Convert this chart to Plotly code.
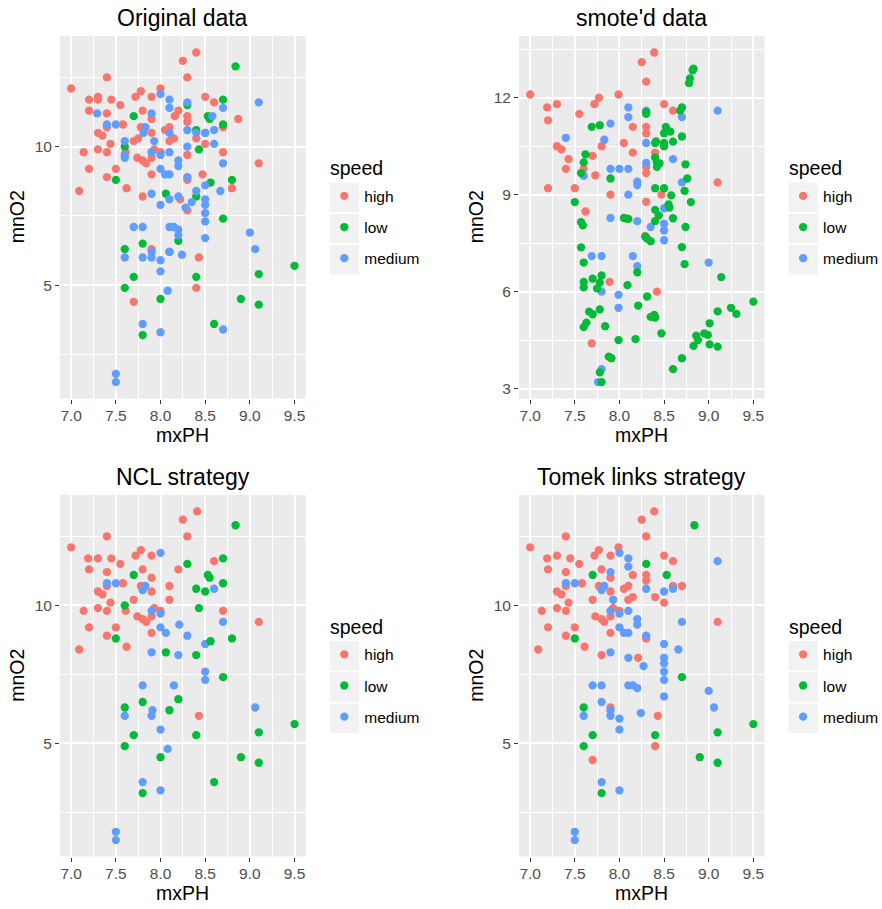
import plotly.graph_objects as go

W, H = 882, 909

CLASSES = ["high", "low", "medium"]
COLORS = {"high": "#F8766D", "low": "#00BA38", "medium": "#619CFF"}

# ---- data: (mxPH, mnO2) pairs per speed class ----
orig_high = [
    (8.4, 13.4), (8.25, 13.1), (7.4, 12.5), (8.3, 12.5), (7.0, 12.1), (8.0, 12.1), (7.78, 12.0),
    (7.72, 11.8), (7.9, 11.8), (7.2, 11.7), (7.3, 11.7), (7.3, 11.8), (7.45, 11.7), (7.55, 11.5),
    (8.5, 11.8), (8.6, 11.6), (7.2, 11.3), (7.4, 11.2), (7.8, 11.3), (7.9, 11.0), (8.2, 11.3),
    (8.16, 11.1), (8.3, 11.1), (8.3, 10.9), (8.87, 11.0), (8.7, 10.7), (7.4, 10.7), (7.58, 10.8),
    (7.78, 10.7), (7.9, 10.5), (8.1, 10.7), (8.05, 10.6), (8.15, 10.3), (8.1, 10.2), (7.3, 10.5),
    (7.35, 10.4), (7.44, 10.1), (7.7, 10.2), (7.75, 10.3), (8.4, 10.3), (8.5, 10.1), (7.3, 9.9),
    (7.14, 9.8), (7.4, 9.8), (7.61, 9.8), (7.93, 9.9), (8.0, 9.8), (8.3, 9.7), (8.7, 9.8),
    (9.1, 9.4), (7.74, 9.6), (7.8, 9.5), (7.84, 9.4), (7.9, 9.6), (7.2, 9.2), (7.5, 9.2),
    (7.9, 9.0), (8.3, 8.8), (8.47, 9.0), (7.4, 8.9), (7.62, 8.5), (8.8, 8.5), (7.09, 8.4),
    (7.8, 8.2), (8.22, 8.1), (8.3, 7.7), (7.9, 6.3), (8.43, 6.0), (8.4, 4.9), (7.7, 4.4),
]
orig_low = [
    (8.84, 12.9), (8.3, 11.5), (8.7, 11.7), (7.7, 11.1), (8.53, 11.1), (8.55, 11.0), (8.7, 10.8),
    (8.4, 10.6), (8.5, 10.5), (7.6, 10.0), (8.43, 9.9), (7.5, 8.8), (8.56, 8.7), (8.8, 8.8),
    (8.06, 8.3), (8.4, 8.2), (8.7, 7.4), (7.6, 6.3), (7.8, 6.5), (8.2, 6.6), (8.1, 6.2),
    (7.7, 5.3), (8.4, 5.3), (9.1, 5.4), (9.5, 5.7), (7.6, 4.9), (8.0, 4.5), (8.9, 4.5),
    (9.1, 4.3), (7.8, 3.2), (8.6, 3.6),
]
orig_medium = [
    (8.0, 11.9), (8.1, 11.7), (8.1, 11.4), (8.3, 11.6), (8.7, 11.4), (9.1, 11.6), (7.29, 11.2),
    (7.9, 11.2), (8.58, 11.1), (7.4, 10.8), (7.5, 10.8), (7.83, 10.7), (7.81, 10.5), (8.1, 10.5),
    (8.3, 10.6), (8.4, 10.5), (8.5, 10.5), (8.6, 10.6), (7.6, 10.2), (7.93, 10.2), (8.6, 10.1),
    (7.6, 9.7), (7.6, 9.6), (7.9, 9.8), (8.0, 9.7), (8.1, 9.8), (8.3, 10.0), (8.7, 9.4),
    (8.0, 9.2), (8.2, 9.5), (8.2, 9.3), (8.05, 9.0), (8.1, 9.0), (8.3, 8.9), (8.5, 8.6),
    (7.9, 8.3), (8.1, 8.1), (8.0, 7.9), (8.2, 8.2), (8.4, 8.4), (8.35, 8.0), (8.28, 7.8),
    (8.67, 8.4), (8.5, 8.1), (8.5, 7.9), (8.5, 7.6), (8.5, 7.3), (7.7, 7.1), (7.8, 7.1),
    (8.1, 7.1), (8.15, 7.1), (8.2, 7.0), (8.2, 6.8), (9.0, 6.9), (8.5, 6.7), (9.06, 6.3),
    (7.9, 6.2), (7.9, 6.0), (7.6, 6.0), (7.8, 6.0), (8.0, 5.9), (8.1, 6.2), (8.24, 6.1),
    (8.0, 5.5), (8.08, 4.8), (7.8, 3.6), (8.0, 3.3), (8.7, 3.4), (7.5, 1.8), (7.5, 1.5),
]

smote_high = [
    (8.39, 13.4), (8.25, 13.1), (8.3, 12.5), (7.0, 12.1), (7.77, 12.0), (7.99, 12.1), (7.72, 11.8),
    (7.19, 11.7), (7.3, 11.8), (7.55, 11.5), (7.2, 11.3), (8.5, 11.8), (8.6, 11.6), (8.15, 11.1),
    (8.3, 11.1), (8.3, 10.9), (8.05, 10.6), (7.3, 10.5), (7.35, 10.4), (7.8, 10.5), (7.43, 10.1),
    (7.7, 10.2), (8.15, 10.3), (8.4, 10.3), (8.3, 9.86), (8.3, 9.67), (7.4, 9.8), (7.6, 9.8),
    (7.73, 9.6), (7.2, 9.2), (7.5, 9.2), (9.1, 9.38), (7.9, 9.0), (8.47, 9.0), (8.3, 8.78),
    (7.62, 8.48), (8.29, 7.72), (7.89, 6.3), (8.42, 6.0), (7.69, 4.4),
]
smote_low = [
    (8.83, 12.9), (8.82, 12.85), (8.79, 12.6), (8.78, 12.45), (8.3, 11.5), (8.3, 11.55),
    (8.68, 11.6), (8.7, 11.7), (7.69, 11.1), (7.78, 11.15), (8.52, 11.1), (8.53, 11.0),
    (8.5, 10.9), (8.57, 10.95), (8.6, 10.64), (8.7, 10.8), (8.41, 10.65), (8.4, 10.6),
    (8.5, 10.6), (8.5, 10.5), (7.62, 10.25), (7.6, 10.0), (8.4, 10.15), (8.42, 10.0),
    (8.45, 9.97), (8.42, 9.86), (8.74, 9.94), (7.57, 9.67), (7.9, 9.5), (8.76, 9.5),
    (8.4, 9.2), (8.5, 9.2), (8.73, 9.12), (8.58, 8.98), (7.5, 8.77), (8.8, 8.77),
    (8.05, 8.28), (8.08, 8.26), (8.1, 8.25), (8.4, 8.53), (8.4, 8.18), (8.44, 8.36),
    (8.55, 8.7), (8.56, 8.6), (8.6, 8.27), (7.57, 8.15), (7.59, 8.05), (8.74, 8.0),
    (8.31, 7.64), (8.35, 7.56), (8.29, 7.7), (8.7, 7.38), (7.57, 7.37), (7.6, 6.9),
    (8.73, 6.85), (9.14, 6.45), (8.2, 6.6), (7.8, 6.5), (7.78, 6.28), (7.7, 6.4),
    (7.6, 6.3), (7.6, 6.13), (7.75, 6.1), (8.09, 6.2), (8.31, 5.85), (8.21, 5.57),
    (8.35, 5.22), (8.39, 5.28), (8.4, 5.2), (9.5, 5.69), (9.1, 5.39), (9.25, 5.5),
    (9.31, 5.31), (9.01, 5.02), (7.66, 5.38), (7.7, 5.3), (7.78, 5.45), (7.63, 5.04),
    (7.6, 4.9), (7.84, 4.93), (8.47, 4.71), (8.86, 4.64), (8.88, 4.5), (8.95, 4.71),
    (8.99, 4.66), (8.83, 4.32), (9.01, 4.37), (9.1, 4.3), (7.99, 4.5), (8.18, 4.53),
    (7.88, 3.99), (7.91, 3.94), (8.7, 3.94), (8.6, 3.6), (7.78, 3.5), (7.8, 3.2),
]
smote_medium = [
    (8.1, 11.7), (8.1, 11.4), (8.3, 11.6), (8.7, 11.4), (9.1, 11.6), (7.9, 11.2), (7.4, 10.76),
    (7.83, 10.7), (8.3, 10.6), (8.3, 9.98), (8.6, 10.1), (7.6, 9.58), (7.9, 9.8), (8.0, 9.8),
    (8.1, 9.8), (8.2, 9.4), (8.2, 9.3), (8.7, 9.38), (8.1, 9.0), (7.9, 8.28), (8.2, 8.18),
    (8.5, 8.58), (8.35, 8.0), (8.5, 8.1), (8.5, 7.89), (8.5, 7.59), (7.69, 7.1), (7.8, 7.1),
    (8.15, 7.1), (8.2, 6.79), (9.0, 6.9), (7.8, 6.0), (7.99, 5.9), (7.99, 5.5), (7.8, 3.6),
    (7.76, 3.2),
]

ncl_high = [
    (8.41, 13.4), (8.25, 13.1), (7.4, 12.5), (8.3, 12.5), (7.0, 12.1), (7.78, 12.0), (7.72, 11.8),
    (7.9, 11.8), (7.19, 11.7), (7.3, 11.7), (7.45, 11.7), (7.55, 11.5), (8.6, 11.6), (7.2, 11.3),
    (7.4, 11.2), (7.8, 11.3), (7.9, 11.0), (8.2, 11.3), (7.4, 10.7), (7.58, 10.8), (7.78, 10.7),
    (7.9, 10.5), (8.1, 10.7), (8.1, 10.2), (7.3, 10.5), (7.35, 10.4), (7.44, 10.1), (7.7, 10.2),
    (7.3, 9.9), (7.14, 9.8), (7.4, 9.8), (7.61, 9.8), (7.93, 9.9), (8.0, 9.8), (8.7, 9.8),
    (9.1, 9.4), (7.74, 9.6), (7.8, 9.5), (7.84, 9.4), (7.9, 9.6), (7.2, 9.2), (7.5, 9.2),
    (7.9, 9.0), (7.4, 8.9), (7.62, 8.5), (7.09, 8.4), (8.43, 6.0),
]
ncl_low = list(orig_low)
ncl_medium = [
    (8.0, 11.9), (8.6, 10.6), (7.4, 10.8), (7.5, 10.8), (7.83, 10.7), (7.8, 10.55), (7.9, 9.8),
    (8.0, 9.7), (8.7, 9.4), (8.0, 9.2), (8.21, 9.3), (8.06, 9.0), (8.3, 8.9), (8.5, 8.6),
    (7.9, 8.3), (8.2, 8.2), (8.5, 7.6), (8.5, 7.3), (7.8, 7.1), (8.15, 7.1), (7.91, 6.2),
    (7.9, 6.0), (7.6, 6.0), (8.0, 5.5), (9.06, 6.3), (8.08, 4.8), (7.8, 3.6), (8.0, 3.3),
    (7.5, 1.8), (7.5, 1.5),
]

tomek_high = [
    (8.39, 13.4), (8.25, 13.1), (7.4, 12.5), (8.3, 12.5), (7.0, 12.1), (7.99, 12.1), (7.77, 12.0),
    (7.72, 11.8), (7.9, 11.8), (7.19, 11.7), (7.3, 11.8), (7.45, 11.7), (7.55, 11.5), (8.5, 11.8),
    (8.6, 11.6), (7.2, 11.3), (7.4, 11.2), (7.8, 11.3), (7.9, 11.0), (8.15, 11.1), (8.3, 11.1),
    (8.3, 10.9), (8.6, 10.7), (8.7, 10.7), (7.4, 10.7), (7.58, 10.8), (7.77, 10.7), (7.9, 10.5),
    (8.05, 10.6), (8.1, 10.7), (8.15, 10.3), (8.1, 10.2), (8.4, 10.3), (8.5, 10.1), (7.3, 10.5),
    (7.35, 10.4), (7.43, 10.1), (7.7, 10.2), (7.3, 9.9), (7.13, 9.8), (7.4, 9.8), (7.93, 9.9),
    (8.0, 9.8), (9.1, 9.4), (7.73, 9.6), (7.8, 9.5), (7.83, 9.4), (7.9, 9.6), (7.2, 9.2),
    (7.5, 9.2), (7.9, 9.0), (8.3, 8.8), (7.4, 8.9), (7.61, 8.5), (7.09, 8.4), (7.8, 8.2),
    (8.21, 8.1), (7.9, 6.3), (8.43, 6.0), (8.4, 4.9), (7.7, 4.4),
]
tomek_low = [
    (8.84, 12.9), (8.3, 11.5), (7.7, 11.1), (8.53, 11.1), (7.5, 8.8), (8.7, 7.4), (7.6, 6.3),
    (7.7, 5.3), (8.4, 5.3), (9.1, 5.4), (9.5, 5.7), (7.6, 4.9), (8.9, 4.5), (9.1, 4.3),
    (7.8, 3.2),
]
tomek_medium = [
    (8.0, 11.9), (8.1, 11.7), (8.1, 11.4), (9.1, 11.6), (7.9, 11.2), (8.6, 10.6), (8.5, 10.5),
    (8.3, 10.6), (7.4, 10.8), (7.5, 10.8), (7.83, 10.7), (7.8, 10.55), (7.93, 10.2), (7.9, 9.8),
    (8.0, 9.7), (8.1, 9.8), (8.7, 9.4), (8.0, 9.2), (8.2, 9.5), (8.2, 9.3), (8.05, 9.0),
    (8.1, 9.0), (8.3, 8.9), (8.5, 8.6), (7.9, 8.3), (8.1, 8.1), (8.27, 7.8), (8.66, 8.4),
    (8.5, 8.1), (8.5, 7.9), (8.5, 7.6), (8.5, 7.3), (7.7, 7.1), (7.8, 7.1), (8.1, 7.1),
    (8.15, 7.1), (8.2, 7.0), (9.0, 6.9), (8.5, 6.7), (9.06, 6.3), (7.8, 6.5), (7.9, 6.2),
    (7.9, 6.0), (7.6, 6.0), (8.0, 5.9), (8.24, 6.1), (8.0, 5.5), (7.8, 3.6), (8.0, 3.3),
    (7.5, 1.8), (7.5, 1.5),
]

# panel layout in pixels: (left, right, top, bottom)
panels = [
    ("Original data", {"high": orig_high, "low": orig_low, "medium": orig_medium},
     (60, 305.7, 36, 398.6), [0.905, 13.995], 5, ["high", "low", "medium"]),
    ("smote'd data", {"high": smote_high, "low": smote_low, "medium": smote_medium},
     (519, 764.5, 36, 398.6), [2.69, 13.91], 3, ["high", "medium", "low"]),
    ("NCL strategy", {"high": ncl_high, "low": ncl_low, "medium": ncl_medium},
     (60, 305.7, 495, 856.5), [0.905, 13.995], 5, ["high", "medium", "low"]),
    ("Tomek links strategy", {"high": tomek_high, "low": tomek_low, "medium": tomek_medium},
     (519, 764.5, 495, 856.5), [0.905, 13.995], 5, ["high", "low", "medium"]),
]

FONT = "Liberation Sans, Arial, Helvetica, sans-serif"

fig = go.Figure()
layout = dict(
    width=W, height=H, margin=dict(l=0, r=0, t=0, b=0, autoexpand=False),
    paper_bgcolor="white", plot_bgcolor="#EBEBEB",
    font=dict(family=FONT, color="black"),
    annotations=[], shapes=[],
)


def text_note(text, xpx, ypx, size, angle=0):
    return dict(
        text=text, x=xpx / W, y=1 - ypx / H, xref="paper", yref="paper",
        xanchor="center", yanchor="middle", showarrow=False, textangle=angle,
        font=dict(size=size, color="black"),
    )


for i, (title, data, (l, r, t, b), yrange, ydt, order) in enumerate(panels):
    n = "" if i == 0 else str(i + 1)
    xa, ya, lg = "x" + n, "y" + n, "legend" + n
    for cls in order:
        pts = data[cls]
        fig.add_trace(go.Scatter(
            x=[p[0] for p in pts], y=[p[1] for p in pts],
            mode="markers", name=cls, xaxis=xa, yaxis=ya, legend=lg,
            legendgroup=f"{i}_{cls}", legendrank=CLASSES.index(cls) + 1,
            marker=dict(color=COLORS[cls], size=8.3, line=dict(width=0)),
            hovertemplate="mxPH %{x}<br>mnO2 %{y}<extra>" + cls + "</extra>",
        ))

    tick_font = dict(size=15.5, color="#4D4D4D", family=FONT)
    layout["xaxis" + n] = dict(
        domain=[l / W, r / W], anchor=ya, range=[6.875, 9.625], automargin=False,
        tick0=7, dtick=0.5, tickformat=".1f",
        ticks="outside", ticklen=4, tickwidth=1.3, tickcolor="#333333", ticklabelstandoff=-1,
        showgrid=True, gridcolor="white", gridwidth=1.6, zeroline=False, showline=False,
        minor=dict(tick0=7, dtick=0.25, showgrid=True, gridcolor="white", gridwidth=0.8),
        tickfont=tick_font,
    )
    layout["yaxis" + n] = dict(
        domain=[1 - b / H, 1 - t / H], anchor=xa, range=yrange, automargin=False,
        tick0=0, dtick=ydt,
        ticks="outside", ticklen=4, tickwidth=1.3, tickcolor="#333333",
        showgrid=True, gridcolor="white", gridwidth=1.6, zeroline=False, showline=False,
        minor=dict(tick0=0, dtick=ydt / 2, showgrid=True, gridcolor="white", gridwidth=0.8),
        tickfont=tick_font,
    )

    # panel title and axis titles
    layout["annotations"].append(text_note(title, (l + r) / 2, t - 18, 23))
    layout["annotations"].append(text_note("mxPH", (l + r) / 2, b + 36, 19.5))
    layout["annotations"].append(text_note("mnO2", l - 43, (t + b) / 2, 19.5, angle=-90))

    # legend to the right of the panel, vertically centred on it
    mid = (t + b) / 2
    key_l = r + 24
    layout["annotations"].append(dict(
        text="speed", x=(key_l - 1.5) / W, y=1 - (mid - 49) / H, xref="paper", yref="paper",
        xanchor="left", yanchor="middle", showarrow=False, font=dict(size=19.5, color="black"),
    ))
    layout[lg] = dict(
        font=dict(size=15.5, color="black"),
        x=(key_l + 14.6 - 20) / W, xanchor="left",
        y=1 - (mid - 38) / H, yanchor="top",
        bgcolor="rgba(0,0,0,0)", tracegroupgap=8, traceorder="grouped",
        itemclick=False, itemdoubleclick=False,
    )
    for k in range(3):
        cy = mid - 20 + k * 31.3
        layout["shapes"].append(dict(
            type="rect", xref="paper", yref="paper", layer="below",
            x0=key_l / W, x1=(key_l + 29.3) / W,
            y0=1 - (cy + 14.7) / H, y1=1 - (cy - 14.7) / H,
            fillcolor="#F2F2F2", line=dict(width=0),
        ))

fig.update_layout(**layout)
# drop the browser's default 8px body margin so the figure fills the window exactly
fig.write_html(
    "out.html",
    config={"displayModeBar": False},
    post_script="document.body.style.margin = '0';",
)
